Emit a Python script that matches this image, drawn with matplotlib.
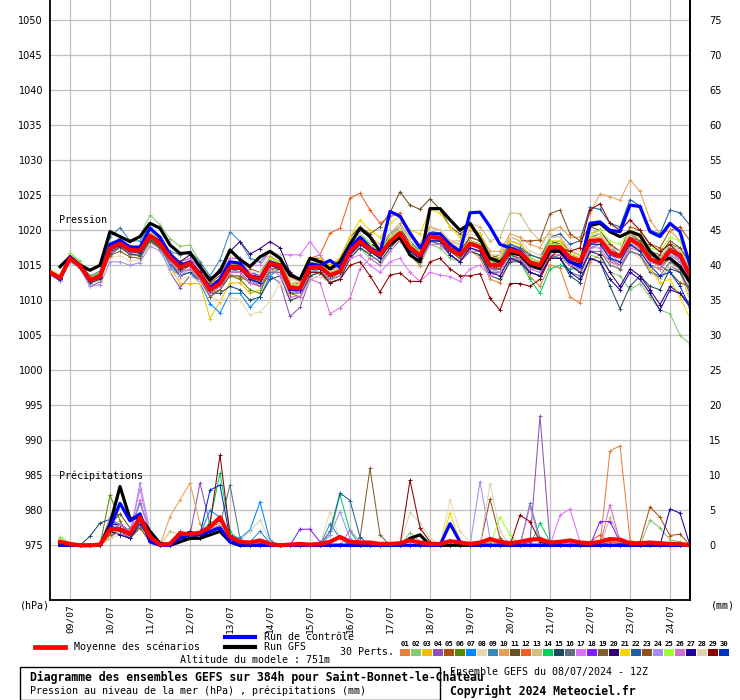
import numpy as np
import matplotlib
matplotlib.use("Agg")
import matplotlib.pyplot as plt
from matplotlib.lines import Line2D
from matplotlib.patches import Rectangle

# ---------------- data ----------------
hours = list(range(0, 385, 6))          # 65 forecast steps (08/07 12Z + 0..384h)
day_hours = [12 + 24 * k for k in range(16)]
day_labels = ["09/07", "10/07", "11/07", "12/07", "13/07", "14/07", "15/07", "16/07",
              "17/07", "18/07", "19/07", "20/07", "21/07", "22/07", "23/07", "24/07"]
left_ticks = [975, 980, 985, 990, 995, 1000, 1005, 1010, 1015, 1020, 1025, 1030, 1035, 1040, 1045, 1050]
right_ticks = [0, 5, 10, 15, 20, 25, 30, 35, 40, 45, 50, 55, 60, 65, 70, 75]

mean_p = [1014.0, 1013.2, 1016.0, 1014.9, 1012.9, 1013.4, 1017.4, 1018.1, 1017.2, 1017.1, 1019.2, 1018.1, 1016.1,
          1014.7, 1015.3, 1013.6, 1011.5, 1012.4, 1014.7, 1014.7, 1013.4, 1013.0, 1015.3, 1014.9, 1011.8, 1011.7,
          1014.7, 1014.8, 1013.6, 1014.1, 1017.0, 1018.4, 1017.3, 1016.5, 1018.4, 1019.6, 1017.5, 1016.4, 1019.1,
          1018.9, 1017.3, 1016.5, 1018.1, 1017.6, 1015.0, 1015.0, 1017.2, 1016.8, 1015.4, 1015.0, 1017.6, 1017.6,
          1016.1, 1015.6, 1018.5, 1018.6, 1016.9, 1016.3, 1018.7, 1017.9, 1015.9, 1015.3, 1017.1, 1016.5, 1013.6]
ctrl_p = [1014.0, 1013.0, 1016.2, 1015.0, 1012.8, 1013.4, 1018.0, 1018.6, 1017.6, 1017.6, 1020.3, 1019.0, 1016.5,
          1015.0, 1015.5, 1013.8, 1011.8, 1013.0, 1015.5, 1015.3, 1013.5, 1013.2, 1015.5, 1015.0, 1011.6, 1011.5,
          1015.2, 1015.0, 1015.7, 1014.7, 1017.5, 1019.0, 1017.5, 1016.7, 1022.7, 1022.0, 1019.6, 1017.5, 1019.5,
          1019.5, 1018.0, 1017.0, 1022.5, 1022.6, 1020.5, 1018.0, 1017.5, 1017.0, 1015.5, 1015.0, 1017.5, 1017.5,
          1015.5, 1014.8, 1021.0, 1021.2, 1020.0, 1019.8, 1023.6, 1023.4, 1019.8, 1019.1, 1021.0, 1019.8, 1015.0]
gfs_p = [np.nan, 1014.8, 1016.2, 1015.0, 1014.3, 1015.0, 1019.8, 1019.1, 1018.4, 1019.1, 1021.0, 1020.3, 1017.9,
         1016.7, 1016.8, 1014.8, 1012.9, 1014.1, 1017.2, 1015.8, 1014.8, 1016.2, 1017.0, 1016.0, 1013.6, 1013.0,
         1016.0, 1015.5, 1014.5, 1015.5, 1018.0, 1020.3, 1019.1, 1017.0, 1018.0, 1019.0, 1016.5, 1015.5, 1023.1,
         1023.1, 1021.5, 1020.0, 1021.0, 1018.8, 1016.0, 1015.5, 1016.8, 1016.5, 1015.0, 1014.5, 1017.0, 1017.0,
         1015.5, 1015.0, 1020.7, 1021.0, 1019.8, 1019.1, 1019.8, 1019.3, 1017.0, 1015.7, 1016.0, 1014.8, 1012.6]

p01 = [1014.0, 1012.9, 1016.2, 1014.9, 1013.2, 1013.4, 1016.9, 1018.4, 1017.2, 1016.6, 1019.7, 1018.1, 1015.1,
       1014.2, 1014.3, 1014.1, 1012.5, 1012.9, 1013.7, 1013.2, 1012.9, 1013.0, 1016.3, 1015.4, 1013.3, 1012.7,
       1014.7, 1013.8, 1014.1, 1015.1, 1017.0, 1017.4, 1016.8, 1017.0, 1019.4, 1019.6, 1016.5, 1014.9, 1018.6,
       1018.9, 1018.3, 1017.0, 1017.1, 1016.1, 1013.0, 1012.5, 1015.7, 1015.8, 1013.4, 1012.0, 1015.1, 1014.6,
       1010.5, 1009.6, 1015.5, 1016.6, 1015.9, 1014.3, 1017.7, 1017.4, 1016.4, 1016.3, 1017.1, 1015.5, 1013.6]
p02 = [1014.3, 1013.4, 1016.8, 1015.6, 1013.0, 1013.8, 1018.0, 1018.9, 1018.5, 1019.2, 1022.2, 1020.8, 1018.8,
       1017.7, 1017.9, 1015.5, 1012.5, 1013.0, 1015.5, 1015.0, 1014.0, 1013.5, 1016.0, 1015.5, 1012.0, 1011.0,
       1014.0, 1014.5, 1012.5, 1013.0, 1016.0, 1017.5, 1016.0, 1015.0, 1017.5, 1018.5, 1016.5, 1015.0, 1018.0,
       1017.5, 1016.0, 1015.5, 1017.0, 1016.5, 1014.0, 1014.5, 1016.5, 1016.0, 1014.5, 1014.0, 1016.5, 1016.0,
       1015.0, 1014.5, 1016.5, 1016.0, 1014.0, 1013.5, 1011.5, 1012.4, 1010.5, 1008.6, 1008.1, 1005.0, 1003.8]
p03 = [1013.8, 1013.0, 1015.8, 1014.8, 1012.4, 1012.8, 1016.6, 1017.6, 1016.5, 1016.3, 1018.6, 1017.9, 1015.0,
       1012.4, 1012.4, 1012.4, 1007.4, 1009.8, 1012.5, 1012.5, 1011.0, 1011.5, 1014.0, 1014.5, 1011.5, 1011.0,
       1015.5, 1016.0, 1014.5, 1015.0, 1018.0, 1019.5, 1018.0, 1017.0, 1019.0, 1020.5, 1018.0, 1016.0, 1019.5,
       1019.0, 1017.0, 1016.0, 1018.5, 1018.0, 1015.5, 1016.0, 1018.0, 1017.0, 1015.5, 1015.5, 1018.5, 1018.0,
       1016.5, 1016.0, 1019.0, 1019.5, 1017.0, 1016.5, 1019.5, 1018.5, 1016.0, 1014.5, 1016.0, 1014.0, 1010.0]
p04 = [1014.0, 1013.0, 1015.8, 1014.6, 1012.0, 1012.6, 1016.5, 1017.5, 1016.6, 1016.5, 1018.6, 1017.6, 1014.0,
       1011.8, 1013.5, 1013.0, 1010.5, 1011.5, 1014.0, 1014.5, 1013.0, 1012.0, 1013.5, 1012.5, 1007.7, 1009.0,
       1013.0, 1013.5, 1012.5, 1013.0, 1016.0, 1018.0, 1017.5, 1016.0, 1018.0, 1019.0, 1017.0, 1016.5, 1019.0,
       1019.5, 1018.0, 1017.0, 1018.0, 1017.5, 1015.0, 1014.5, 1016.5, 1016.0, 1014.0, 1013.5, 1016.0, 1016.5,
       1015.0, 1014.0, 1017.5, 1018.0, 1016.0, 1015.0, 1017.0, 1016.5, 1014.5, 1013.0, 1015.0, 1014.0, 1011.0]
p05 = [1014.2, 1013.4, 1016.2, 1015.2, 1013.5, 1014.0, 1018.0, 1018.5, 1017.8, 1017.5, 1019.5, 1018.5, 1016.5,
       1015.5, 1016.0, 1014.5, 1012.5, 1013.5, 1016.0, 1016.0, 1014.5, 1014.0, 1016.0, 1015.5, 1012.0, 1012.5,
       1015.5, 1015.0, 1013.5, 1014.0, 1017.5, 1019.0, 1017.5, 1016.5, 1018.5, 1020.0, 1018.0, 1016.5, 1019.5,
       1019.0, 1017.0, 1016.0, 1018.0, 1017.5, 1014.5, 1015.0, 1017.5, 1017.0, 1015.5, 1015.0, 1018.0, 1018.5,
       1017.0, 1016.5, 1019.5, 1020.0, 1018.0, 1017.0, 1020.5, 1020.0, 1018.0, 1017.5, 1020.0, 1020.5, 1018.5]
p06 = [1013.8, 1013.2, 1016.4, 1015.0, 1012.6, 1013.2, 1017.0, 1017.8, 1016.8, 1016.8, 1019.0, 1018.0, 1016.5,
       1015.0, 1015.5, 1013.0, 1011.0, 1011.5, 1013.5, 1013.0, 1011.5, 1011.0, 1014.5, 1014.5, 1011.0, 1010.5,
       1013.5, 1014.0, 1013.0, 1014.0, 1016.5, 1018.0, 1017.0, 1016.0, 1018.0, 1019.5, 1017.5, 1016.5, 1019.0,
       1018.5, 1017.0, 1016.5, 1018.0, 1017.5, 1015.0, 1015.5, 1017.5, 1017.0, 1015.5, 1015.0, 1017.5, 1017.0,
       1015.5, 1015.0, 1018.0, 1018.0, 1016.0, 1015.5, 1018.0, 1017.0, 1015.0, 1014.5, 1016.5, 1015.5, 1012.5]
p07 = [1014.0, 1013.2, 1016.0, 1014.8, 1012.8, 1013.0, 1017.0, 1017.6, 1016.6, 1016.4, 1018.6, 1017.8, 1015.0,
       1013.5, 1014.0, 1012.5, 1009.5, 1008.2, 1011.0, 1011.0, 1009.0, 1010.5, 1013.5, 1014.5, 1011.5, 1011.5,
       1014.5, 1015.0, 1013.5, 1014.5, 1017.0, 1018.5, 1017.5, 1016.5, 1018.5, 1020.0, 1017.5, 1016.5, 1019.5,
       1019.0, 1017.5, 1016.5, 1018.5, 1018.0, 1015.5, 1015.5, 1017.5, 1017.0, 1015.5, 1015.0, 1018.0, 1017.5,
       1016.0, 1015.5, 1018.5, 1018.5, 1017.0, 1016.0, 1019.0, 1018.0, 1016.0, 1015.0, 1017.0, 1016.0, 1013.0]
p08 = [1013.6, 1012.8, 1015.6, 1014.6, 1012.4, 1012.8, 1016.0, 1016.4, 1015.6, 1015.8, 1018.0, 1017.4, 1014.0,
       1013.0, 1013.5, 1012.5, 1010.5, 1010.0, 1010.5, 1010.0, 1007.9, 1008.4, 1009.8, 1012.5, 1010.0, 1010.0,
       1013.0, 1013.5, 1012.5, 1013.5, 1016.0, 1018.0, 1017.0, 1016.5, 1018.5, 1019.5, 1017.5, 1016.5, 1019.5,
       1019.0, 1017.5, 1016.5, 1018.5, 1018.0, 1015.5, 1015.0, 1017.5, 1017.0, 1015.5, 1015.0, 1017.5, 1017.0,
       1015.0, 1014.5, 1017.0, 1017.0, 1015.5, 1014.5, 1017.0, 1016.0, 1014.0, 1013.0, 1015.0, 1014.5, 1012.0]
p09 = [1014.2, 1013.4, 1016.4, 1015.4, 1013.4, 1014.2, 1019.0, 1020.4, 1018.5, 1018.5, 1020.5, 1019.0, 1017.0,
       1016.5, 1017.0, 1015.5, 1013.5, 1015.8, 1019.8, 1018.4, 1016.0, 1015.5, 1017.0, 1016.0, 1012.5, 1012.0,
       1015.0, 1015.5, 1014.0, 1014.5, 1017.5, 1019.0, 1018.0, 1017.0, 1019.0, 1020.5, 1018.5, 1017.0, 1020.0,
       1019.5, 1018.0, 1017.0, 1019.0, 1018.5, 1016.0, 1016.0, 1018.0, 1017.5, 1016.0, 1015.5, 1018.5, 1018.0,
       1016.5, 1016.0, 1019.0, 1019.5, 1017.5, 1016.5, 1019.5, 1018.5, 1016.5, 1015.5, 1017.5, 1016.5, 1014.0]
p10 = [1014.2, 1013.2, 1016.2, 1015.0, 1013.0, 1013.6, 1017.6, 1018.4, 1017.4, 1017.4, 1019.6, 1018.4, 1016.5,
       1015.0, 1015.5, 1014.0, 1012.0, 1013.0, 1015.0, 1015.5, 1014.0, 1013.5, 1016.0, 1015.5, 1012.5, 1012.5,
       1015.5, 1016.0, 1014.5, 1015.5, 1018.5, 1020.0, 1019.0, 1018.0, 1019.5, 1021.0, 1019.0, 1018.0, 1020.5,
       1020.0, 1018.5, 1018.0, 1020.0, 1019.5, 1017.0, 1017.0, 1019.5, 1019.0, 1018.0, 1017.5, 1020.0, 1020.5,
       1019.0, 1019.0, 1022.5, 1025.2, 1024.8, 1024.3, 1027.2, 1025.6, 1021.5, 1019.5, 1020.0, 1018.5, 1015.5]
p11 = [1014.0, 1013.0, 1016.0, 1014.8, 1012.8, 1013.2, 1017.2, 1018.0, 1017.0, 1016.8, 1019.0, 1018.0, 1016.5,
       1015.0, 1015.5, 1014.0, 1012.0, 1012.5, 1015.0, 1015.0, 1013.5, 1013.0, 1015.5, 1015.0, 1012.0, 1012.0,
       1015.5, 1016.0, 1015.0, 1016.0, 1019.0, 1020.5, 1019.5, 1020.5, 1022.5, 1025.5, 1023.6, 1023.0, 1024.5,
       1023.0, 1020.5, 1019.5, 1020.5, 1019.5, 1016.5, 1016.0, 1018.5, 1018.0, 1016.5, 1016.0, 1018.5, 1018.0,
       1016.5, 1016.0, 1018.5, 1018.5, 1016.5, 1016.0, 1018.5, 1018.0, 1016.0, 1015.0, 1014.0, 1012.5, 1012.0]
p12 = [1014.0, 1013.2, 1016.0, 1015.0, 1013.0, 1013.5, 1017.5, 1018.2, 1017.2, 1017.0, 1019.0, 1018.0, 1016.0,
       1014.5, 1015.0, 1013.5, 1011.5, 1012.5, 1015.0, 1015.0, 1013.5, 1013.0, 1015.5, 1015.0, 1012.0, 1012.5,
       1016.0, 1016.5, 1019.6, 1020.3, 1024.6, 1025.3, 1022.9, 1021.0, 1022.0, 1022.5, 1019.5, 1018.0, 1020.5,
       1020.0, 1018.0, 1017.0, 1019.0, 1018.5, 1015.5, 1015.5, 1017.5, 1017.5, 1016.0, 1015.5, 1018.0, 1018.0,
       1016.5, 1016.0, 1019.0, 1019.0, 1017.5, 1017.0, 1019.5, 1018.5, 1016.5, 1016.0, 1018.0, 1017.0, 1014.5]
p13 = [1013.8, 1013.0, 1015.8, 1014.8, 1012.6, 1013.0, 1016.8, 1017.5, 1016.5, 1016.5, 1018.5, 1017.5, 1015.5,
       1014.0, 1014.5, 1013.0, 1011.0, 1012.0, 1014.0, 1014.0, 1012.5, 1012.5, 1015.0, 1014.5, 1011.5, 1011.5,
       1014.5, 1015.0, 1013.5, 1014.5, 1017.5, 1019.0, 1018.0, 1017.0, 1019.0, 1020.5, 1019.0, 1018.0, 1020.5,
       1020.0, 1018.5, 1018.5, 1021.0, 1020.5, 1018.5, 1019.0, 1022.5, 1022.4, 1020.0, 1018.5, 1019.5, 1019.0,
       1017.0, 1016.5, 1019.0, 1019.0, 1017.0, 1016.5, 1018.5, 1018.0, 1016.0, 1015.0, 1017.0, 1016.0, 1013.5]
p14 = [1014.0, 1013.2, 1016.2, 1015.0, 1012.8, 1013.4, 1017.5, 1018.2, 1017.4, 1017.4, 1019.4, 1018.4, 1016.5,
       1015.0, 1015.5, 1014.0, 1011.5, 1012.0, 1014.5, 1014.5, 1013.0, 1012.5, 1015.0, 1015.5, 1012.0, 1011.5,
       1015.0, 1015.5, 1014.0, 1014.5, 1018.0, 1019.5, 1018.0, 1017.0, 1019.5, 1020.5, 1018.0, 1017.0, 1019.5,
       1019.0, 1017.5, 1016.5, 1018.5, 1017.5, 1014.5, 1014.5, 1016.5, 1015.5, 1013.0, 1011.0, 1014.5, 1015.0,
       1014.5, 1014.5, 1018.0, 1018.5, 1016.5, 1016.0, 1019.0, 1018.5, 1016.5, 1016.0, 1018.0, 1017.5, 1015.0]
p15 = [1014.0, 1013.0, 1015.8, 1014.6, 1012.5, 1013.0, 1016.8, 1017.6, 1016.6, 1016.4, 1018.6, 1017.6, 1015.5,
       1013.5, 1014.0, 1013.0, 1011.0, 1011.0, 1012.0, 1011.5, 1010.0, 1010.5, 1013.0, 1013.5, 1010.0, 1010.5,
       1013.5, 1014.0, 1012.5, 1013.0, 1016.0, 1017.5, 1016.5, 1015.5, 1017.5, 1019.0, 1016.5, 1015.5, 1018.5,
       1018.0, 1016.5, 1015.5, 1017.0, 1016.5, 1013.5, 1013.0, 1015.5, 1015.5, 1014.0, 1013.5, 1016.0, 1016.0,
       1013.5, 1012.5, 1016.0, 1015.5, 1012.0, 1008.8, 1012.0, 1013.5, 1012.0, 1011.5, 1014.5, 1014.0, 1011.5]
p16 = [1014.2, 1013.4, 1016.0, 1014.8, 1013.0, 1013.6, 1017.6, 1018.0, 1017.0, 1017.2, 1019.4, 1018.0, 1016.0,
       1014.5, 1015.0, 1013.5, 1011.0, 1012.0, 1014.5, 1014.0, 1012.5, 1012.0, 1014.0, 1014.0, 1011.0, 1011.5,
       1014.5, 1014.5, 1013.0, 1013.5, 1016.5, 1018.0, 1017.0, 1016.0, 1018.0, 1019.0, 1016.5, 1015.5, 1018.5,
       1018.0, 1016.5, 1015.5, 1017.5, 1017.0, 1014.0, 1014.0, 1016.0, 1015.5, 1014.0, 1013.5, 1016.5, 1016.0,
       1014.0, 1013.5, 1017.0, 1017.0, 1015.0, 1014.5, 1017.0, 1016.5, 1014.0, 1013.5, 1015.5, 1014.5, 1011.0]
p17 = [1014.2, 1013.4, 1016.2, 1015.2, 1013.2, 1013.8, 1017.6, 1018.4, 1017.6, 1017.4, 1019.6, 1018.4, 1016.5,
       1015.5, 1016.0, 1014.5, 1013.0, 1014.0, 1016.0, 1016.0, 1015.0, 1015.0, 1017.0, 1016.5, 1016.5, 1016.5,
       1018.4, 1016.5, 1014.5, 1014.5, 1016.0, 1016.5, 1015.0, 1014.0, 1015.5, 1016.0, 1014.0, 1012.7, 1014.0,
       1013.6, 1013.4, 1012.7, 1014.5, 1015.0, 1013.5, 1014.0, 1016.0, 1016.0, 1014.5, 1014.5, 1017.0, 1017.0,
       1015.5, 1015.0, 1018.0, 1018.0, 1016.5, 1015.5, 1018.0, 1017.5, 1015.5, 1015.0, 1016.5, 1015.5, 1013.0]
p18 = [1013.8, 1012.8, 1015.8, 1014.8, 1012.6, 1013.2, 1017.2, 1018.0, 1017.0, 1017.0, 1019.0, 1018.0, 1016.0,
       1014.5, 1015.5, 1014.0, 1012.0, 1013.0, 1015.5, 1015.5, 1014.0, 1013.5, 1015.5, 1015.0, 1011.5, 1011.0,
       1014.0, 1014.5, 1013.5, 1014.0, 1016.5, 1018.0, 1017.0, 1016.5, 1018.5, 1019.5, 1017.0, 1016.0, 1018.5,
       1018.5, 1017.0, 1016.5, 1018.0, 1017.5, 1014.5, 1014.5, 1017.0, 1016.5, 1015.0, 1014.5, 1017.0, 1017.0,
       1015.5, 1015.0, 1018.0, 1018.5, 1016.5, 1016.0, 1018.5, 1018.0, 1015.5, 1015.0, 1017.0, 1016.0, 1013.0]
p19 = [1014.0, 1013.2, 1015.8, 1014.6, 1012.6, 1013.2, 1016.4, 1017.0, 1016.2, 1016.0, 1018.4, 1017.4, 1015.5,
       1014.0, 1015.0, 1013.0, 1010.5, 1011.5, 1013.5, 1013.5, 1012.5, 1012.0, 1014.5, 1014.5, 1011.0, 1011.0,
       1014.0, 1014.0, 1013.0, 1013.5, 1016.5, 1018.0, 1017.0, 1016.0, 1018.0, 1019.0, 1017.0, 1016.0, 1018.5,
       1018.5, 1017.0, 1016.0, 1017.5, 1017.0, 1014.5, 1014.5, 1016.5, 1016.0, 1015.0, 1014.5, 1017.0, 1017.5,
       1016.0, 1015.5, 1018.5, 1018.5, 1017.0, 1016.5, 1019.0, 1018.5, 1016.5, 1016.0, 1017.5, 1016.5, 1014.0]
p20 = [1014.2, 1013.4, 1016.2, 1015.2, 1013.2, 1013.8, 1017.8, 1018.6, 1017.6, 1017.6, 1019.6, 1018.6, 1016.8,
       1015.5, 1016.5, 1015.0, 1013.0, 1014.5, 1017.0, 1018.4, 1016.6, 1017.4, 1018.4, 1017.5, 1014.0, 1013.0,
       1016.0, 1016.0, 1014.5, 1015.0, 1017.5, 1019.0, 1018.0, 1017.5, 1019.5, 1020.5, 1018.0, 1017.0, 1019.5,
       1019.5, 1018.0, 1017.0, 1018.5, 1018.0, 1015.5, 1015.0, 1017.5, 1017.0, 1015.5, 1015.0, 1017.5, 1017.0,
       1015.0, 1014.0, 1017.0, 1016.5, 1014.0, 1012.0, 1014.5, 1013.5, 1011.5, 1009.4, 1012.0, 1011.0, 1009.5]
p21 = [1014.0, 1013.2, 1016.0, 1015.0, 1013.0, 1013.6, 1017.6, 1018.2, 1017.4, 1017.2, 1019.4, 1018.2, 1016.5,
       1015.0, 1015.5, 1013.5, 1011.5, 1012.5, 1015.0, 1015.0, 1013.5, 1013.0, 1015.5, 1015.5, 1012.0, 1012.0,
       1015.5, 1016.0, 1015.0, 1016.0, 1019.0, 1021.5, 1020.0, 1019.0, 1021.0, 1022.0, 1020.0, 1019.5, 1023.0,
       1022.5, 1020.5, 1019.0, 1020.5, 1019.5, 1016.5, 1016.0, 1018.5, 1018.0, 1016.5, 1016.0, 1018.5, 1018.5,
       1016.5, 1016.0, 1019.0, 1019.0, 1017.0, 1016.0, 1018.5, 1017.5, 1014.5, 1012.5, 1013.0, 1010.5, 1007.4]
p22 = [1014.0, 1013.2, 1016.0, 1015.0, 1013.0, 1013.4, 1017.4, 1018.0, 1017.2, 1017.0, 1019.0, 1018.0, 1016.0,
       1014.5, 1015.0, 1013.5, 1011.5, 1012.5, 1014.5, 1014.5, 1013.0, 1012.5, 1015.0, 1014.5, 1011.5, 1011.5,
       1014.5, 1014.5, 1013.5, 1014.0, 1017.0, 1018.5, 1017.5, 1016.5, 1018.5, 1019.5, 1017.5, 1016.5, 1019.0,
       1019.0, 1017.5, 1016.5, 1018.5, 1018.0, 1015.5, 1015.5, 1018.0, 1017.5, 1016.5, 1016.0, 1019.0, 1019.5,
       1018.0, 1018.5, 1023.3, 1023.0, 1021.0, 1020.5, 1024.4, 1023.5, 1020.0, 1019.5, 1022.9, 1022.5, 1020.7]
p23 = [1014.0, 1013.0, 1016.0, 1014.8, 1012.8, 1013.2, 1017.2, 1017.8, 1017.0, 1016.8, 1019.0, 1017.8, 1016.0,
       1014.5, 1015.0, 1013.5, 1011.5, 1012.0, 1014.5, 1014.5, 1013.0, 1012.5, 1015.0, 1014.5, 1011.5, 1011.5,
       1014.5, 1015.0, 1013.5, 1014.0, 1017.0, 1018.5, 1017.5, 1016.5, 1018.5, 1020.0, 1018.0, 1017.0, 1019.5,
       1019.0, 1017.5, 1017.0, 1019.0, 1018.5, 1016.0, 1016.5, 1019.0, 1018.5, 1018.5, 1018.6, 1022.4, 1022.9,
       1019.5, 1018.5, 1020.5, 1020.0, 1018.0, 1017.0, 1019.5, 1019.0, 1017.0, 1016.5, 1018.5, 1017.5, 1015.5]
p24 = [1013.6, 1012.8, 1015.5, 1014.6, 1012.0, 1012.2, 1015.5, 1015.5, 1015.0, 1015.4, 1017.7, 1017.1, 1014.5,
       1013.5, 1014.5, 1013.0, 1011.0, 1012.0, 1014.0, 1014.0, 1012.5, 1012.5, 1015.0, 1014.5, 1011.5, 1011.0,
       1014.0, 1014.5, 1013.0, 1013.5, 1016.5, 1018.0, 1017.0, 1016.0, 1018.0, 1019.0, 1017.0, 1016.0, 1018.5,
       1018.5, 1017.0, 1016.5, 1018.0, 1017.5, 1015.0, 1015.0, 1017.0, 1016.5, 1015.0, 1015.0, 1017.5, 1017.5,
       1016.0, 1015.5, 1018.0, 1018.0, 1016.0, 1015.5, 1018.0, 1017.5, 1015.5, 1015.0, 1016.5, 1015.5, 1012.5]
p25 = [1014.4, 1013.6, 1016.6, 1015.4, 1013.2, 1014.0, 1018.0, 1018.6, 1017.6, 1017.6, 1019.8, 1018.6, 1016.5,
       1015.0, 1015.5, 1014.0, 1012.0, 1013.0, 1015.0, 1015.0, 1013.5, 1013.5, 1016.0, 1015.5, 1012.5, 1012.0,
       1015.0, 1015.5, 1014.0, 1014.5, 1017.5, 1019.0, 1018.0, 1017.0, 1019.0, 1020.0, 1018.0, 1017.0, 1019.5,
       1019.5, 1018.0, 1017.0, 1018.5, 1018.0, 1015.5, 1015.5, 1017.5, 1017.0, 1016.0, 1015.5, 1018.0, 1018.0,
       1016.5, 1016.5, 1019.5, 1020.0, 1018.5, 1018.0, 1020.0, 1019.5, 1017.5, 1017.0, 1019.0, 1018.5, 1016.0]
p26 = [1014.0, 1013.2, 1015.8, 1014.8, 1012.8, 1013.2, 1017.0, 1017.8, 1016.8, 1016.8, 1019.0, 1018.0, 1015.5,
       1014.0, 1014.5, 1013.0, 1011.0, 1012.0, 1014.0, 1014.0, 1012.5, 1012.0, 1014.5, 1013.5, 1010.5, 1010.5,
       1013.0, 1012.5, 1008.1, 1008.9, 1010.3, 1014.5, 1016.0, 1015.0, 1017.0, 1018.5, 1016.5, 1015.5, 1018.0,
       1018.0, 1016.5, 1015.5, 1017.0, 1017.0, 1014.5, 1014.0, 1016.0, 1016.0, 1014.5, 1014.0, 1016.5, 1016.5,
       1015.0, 1014.5, 1017.5, 1017.5, 1015.5, 1015.0, 1017.5, 1017.0, 1015.0, 1014.5, 1016.0, 1015.0, 1012.0]
p27 = [1014.0, 1013.2, 1016.0, 1014.8, 1012.8, 1013.4, 1017.4, 1018.0, 1017.0, 1017.0, 1019.2, 1018.0, 1016.0,
       1014.5, 1015.0, 1013.5, 1011.5, 1012.5, 1014.5, 1014.5, 1013.0, 1012.5, 1015.0, 1014.5, 1011.5, 1011.5,
       1014.5, 1014.5, 1013.5, 1014.0, 1016.5, 1018.0, 1017.0, 1016.0, 1018.0, 1019.0, 1017.0, 1016.0, 1018.5,
       1018.5, 1016.5, 1015.5, 1017.5, 1017.0, 1014.0, 1013.5, 1016.0, 1015.5, 1014.0, 1013.5, 1016.0, 1016.0,
       1014.0, 1013.0, 1016.0, 1015.5, 1013.0, 1011.5, 1014.0, 1013.0, 1011.0, 1008.6, 1011.5, 1011.0, 1009.0]
p28 = [1014.2, 1013.4, 1016.2, 1015.0, 1013.0, 1013.6, 1017.8, 1018.4, 1017.4, 1017.4, 1019.6, 1018.4, 1016.5,
       1015.0, 1015.5, 1014.0, 1012.0, 1013.0, 1015.5, 1015.5, 1014.0, 1014.0, 1017.0, 1016.5, 1013.0, 1012.5,
       1015.5, 1015.5, 1014.0, 1015.0, 1018.0, 1019.5, 1018.5, 1017.5, 1019.5, 1020.5, 1018.5, 1017.5, 1020.0,
       1020.0, 1018.5, 1017.5, 1019.5, 1019.0, 1016.5, 1016.5, 1019.0, 1018.5, 1017.0, 1016.5, 1019.0, 1019.0,
       1017.5, 1017.0, 1019.5, 1019.5, 1017.5, 1017.0, 1019.5, 1019.0, 1017.0, 1016.0, 1018.0, 1017.0, 1014.5]
p29 = [1014.0, 1013.2, 1016.2, 1015.0, 1013.0, 1013.4, 1017.6, 1018.4, 1017.4, 1017.4, 1019.4, 1018.6, 1016.5,
       1015.0, 1015.5, 1014.0, 1011.5, 1012.5, 1015.0, 1015.0, 1013.5, 1013.0, 1015.5, 1015.0, 1011.5, 1011.5,
       1014.0, 1014.0, 1012.5, 1013.0, 1015.0, 1015.5, 1013.5, 1011.2, 1013.6, 1013.9, 1012.7, 1012.7, 1015.5,
       1016.0, 1014.5, 1013.5, 1013.5, 1013.8, 1010.3, 1008.6, 1012.4, 1012.4, 1012.0, 1013.0, 1016.0, 1017.5,
       1017.0, 1017.5, 1022.9, 1023.8, 1021.0, 1020.0, 1021.5, 1020.0, 1018.0, 1017.0, 1018.0, 1016.5, 1014.0]
p30 = [1014.0, 1013.2, 1016.0, 1014.8, 1012.8, 1013.2, 1017.2, 1017.8, 1017.0, 1016.8, 1019.0, 1018.0, 1016.0,
       1014.5, 1015.0, 1013.5, 1011.5, 1012.5, 1014.5, 1014.5, 1013.0, 1012.5, 1015.0, 1015.0, 1012.0, 1011.5,
       1014.5, 1015.0, 1013.5, 1014.0, 1017.0, 1018.5, 1017.5, 1016.5, 1018.0, 1019.5, 1017.0, 1016.0, 1018.5,
       1018.5, 1017.0, 1016.5, 1018.0, 1017.5, 1015.0, 1015.0, 1017.0, 1016.5, 1015.0, 1015.0, 1017.5, 1017.5,
       1016.0, 1015.5, 1018.0, 1018.0, 1016.0, 1015.5, 1018.0, 1017.0, 1015.0, 1013.5, 1014.0, 1012.0, 1009.0]

# precipitation (mm per 6 h), steps +6h .. +384h (64 values)
mean_r = [0.5, 0.2, 0, 0, 0.1, 2.3, 2.3, 1.6, 4.0, 1.2, 0.1, 0.2, 1.7, 1.6, 1.8, 2.6,
          4.0, 1.2, 0.5, 0.4, 0.7, 0.2, 0, 0.1, 0.2, 0.1, 0.2, 0.5, 1.2, 0.5, 0.4, 0.4,
          0.2, 0.2, 0.3, 0.7, 0.4, 0.2, 0.2, 0.6, 0.4, 0.2, 0.4, 0.9, 0.5, 0.3, 0.5, 0.8,
          0.9, 0.4, 0.5, 0.7, 0.4, 0.3, 0.5, 0.9, 0.8, 0.3, 0.3, 0.4, 0.3, 0.2, 0.2, 0]
ctrl_r = [0, 0, 0, 0, 0, 2.5, 6.0, 3.5, 4.5, 0.5, 0, 0, 1.0, 1.5, 1.5, 2.0,
          2.5, 0.5, 0, 0, 0, 0, 0, 0, 0, 0, 0, 0, 0, 0, 0, 0,
          0, 0, 0, 0, 0, 0, 0, 3.1, 0.5, 0, 0, 0, 0, 0, 0, 0,
          0, 0, 0, 0, 0, 0, 0, 0, 0, 0, 0, 0, 0, 0, 0, 0]
gfs_r = [0, 0, 0, 0, 0, 3.0, 8.4, 3.8, 4.0, 2.0, 0.3, 0, 0.5, 1, 1, 1.5,
         2, 0.5, 0, 0, 0, 0, 0, 0, 0, 0, 0, 0, 0, 0, 0, 0,
         0, 0, 0, 1.0, 1.5, 0, 0, 0, 0, 0, 0, 0, 0, 0, 0, 0,
         0, 0, 0, 0, 0, 0, 0, 0, 0, 0, 0, 0, 0, 0, 0, 0]

r01 = [0.5, 0, 0, 0, 0, 2, 2.5, 1.5, 3, 1, 0, 0, 1.5, 1, 1, 3, 3, 1, 0.5, 0, 0.3, 0, 0, 0, 0, 0, 0, 0, 0, 0, 0, 0,
       0, 0, 0, 0, 0, 0, 0, 0, 0, 0, 0, 0.5, 0.5, 0, 0, 0, 0, 0, 0, 0, 0, 0, 0, 13.5, 14.2, 0.8, 0, 0, 0, 0, 0, 0]
r02 = [1.2, 0.3, 0, 0, 0, 3, 2, 1.5, 4, 1.5, 0, 0, 1, 1.5, 2, 2.5, 4, 1, 0.5, 0.3, 0, 0, 0, 0, 0, 0, 0, 0, 0, 0, 0, 0,
       0, 0, 0, 1.8, 0.5, 0, 0, 0, 0, 0, 0, 0, 0, 0, 0, 0, 0, 0, 0, 0, 0, 0, 0, 0, 0, 0, 0, 3.6, 2.5, 0.8, 0.5, 0]
r03 = [0.8, 0, 0, 0, 0, 1.5, 3, 2, 3, 1, 0, 0, 1.5, 2, 1.5, 3, 3.5, 0.5, 0, 0, 0, 0, 0, 0, 0, 0, 0, 0, 0, 0, 0, 0,
       0, 0, 0, 0, 0, 0, 0, 0, 0, 0, 0, 0, 0, 0, 0, 0, 0, 0, 0, 0, 0, 0, 0, 0, 0, 0, 0, 0, 0, 0, 0, 0]
r04 = [0.5, 0, 0, 0, 0, 2.5, 1.5, 1, 3, 1, 0, 0, 1, 1.5, 8.9, 3, 2.5, 0.5, 0, 0, 0, 0, 0, 0, 0, 0, 0, 0, 0, 0, 0, 0,
       0, 0, 0, 0, 0, 0, 0, 0, 0, 0, 0, 0, 0, 0, 0, 0.5, 18.5, 0.5, 0, 0, 0, 0, 0, 0, 0, 0, 0, 0, 0, 0, 0, 0]
r05 = [0.3, 0, 0, 0, 0, 3, 2, 1.5, 3.5, 1.5, 0, 0, 1.5, 1, 1.5, 2, 3, 1, 0.5, 0, 0, 0, 0, 0, 0, 0, 0, 0, 0, 0, 0, 0,
       0, 0, 0, 0, 0, 0, 0, 0, 0, 0, 0, 0, 0, 0, 0, 0, 0, 0, 0, 0, 0, 0, 0, 0.5, 0.3, 0.2, 0.5, 5.5, 4, 1.4, 1.6, 0]
r06 = [0.6, 0, 0, 0, 0, 7.2, 3.5, 1, 2.5, 0.5, 0, 0, 1, 1.5, 1, 2.5, 2.5, 0.5, 0, 0, 0, 0, 0, 0, 0, 0, 0, 0, 0, 0, 0, 0,
       0, 0, 0, 0, 0, 0, 0, 0, 0, 0, 0, 0, 0, 0, 0, 0, 0, 0, 0, 0, 0, 0, 0, 0, 0, 0, 0, 0, 0, 0, 0, 0]
r07 = [0.4, 0, 0, 0, 0, 2, 3, 2, 3.5, 1, 0, 0, 2, 1, 1.5, 5, 4, 1.5, 1, 2.2, 6.2, 0.7, 0, 0, 0, 0, 0, 0, 0, 0, 0, 0,
       0, 0, 0, 0, 0, 0, 0, 0, 0, 0, 0, 0, 0, 0, 0, 0, 0, 0, 0, 0, 0, 0, 0, 0, 0, 0, 0, 0, 0, 0, 0, 0]
r08 = [0.3, 0, 0, 0, 0, 1, 1.5, 1, 2.5, 0.5, 0, 0, 1, 1.5, 1, 2.5, 3, 0.5, 0, 0, 0, 0, 0, 0, 0, 0, 0, 4.8, 1, 0, 0, 0,
       0, 0, 0, 0, 0, 0, 0, 6.5, 2, 0.5, 0, 0, 0, 0, 0, 0, 0, 0, 0, 0, 0, 0, 0, 0, 0, 0, 0, 0, 0, 0, 0, 0]
r09 = [0.5, 0, 0, 0, 0, 4, 2, 2, 6, 2, 0, 0, 1.5, 2, 1.5, 3, 3.5, 1, 0.5, 0.5, 2, 0.3, 0, 0, 0, 0, 0, 3.1, 1, 0, 0, 0,
       0, 0, 0, 0, 0, 0, 0, 0, 0, 0, 0, 0, 0, 0, 0, 6.0, 1, 0, 0, 0, 0, 0, 0, 0, 0, 0, 0, 0, 0, 0, 0, 0]
r10 = [0.4, 0, 0, 0, 0, 2, 1.5, 1.5, 3, 1, 0, 4.1, 6.5, 8.9, 3, 2, 2.5, 1, 0.5, 0, 0, 0, 0, 0, 0, 0, 0, 0, 0, 0, 0, 0,
       0, 0, 0, 0, 0, 0, 0, 0, 0, 0, 0, 0, 0, 0, 0, 0, 0, 0, 0, 0, 0, 0, 0, 0, 0, 0, 0, 0, 0, 0, 0, 0]
r11 = [0.3, 0, 0, 0, 0, 3, 4.5, 2.5, 3, 1, 0, 0, 1.5, 1, 1.5, 3, 3, 1, 0.5, 0, 0, 0, 0, 0, 0, 0, 0, 0, 0, 0, 0, 0.5,
       0, 0, 0, 0, 0, 0, 0, 0, 0, 0, 0, 0, 0, 0, 0, 0, 0, 0, 0, 0, 0, 0, 0, 0, 0, 0, 0, 0, 0, 0, 0, 0]
r12 = [0.5, 0, 0, 0, 0, 2.5, 2, 1.5, 3.5, 1, 0, 0, 2, 1.5, 2, 3, 3, 1, 0.5, 0, 0, 0, 0, 0, 0, 0, 0, 0, 0, 0, 0, 0,
       0, 0, 0, 0, 0, 0, 0, 0, 0, 0, 0, 0, 0, 0, 0, 0, 0, 0, 0, 0, 0, 0.5, 1.5, 0.5, 0.3, 0, 0, 0, 0, 0, 0, 0]
r13 = [0.6, 0, 0, 0, 0, 1, 2.5, 1.5, 3, 1, 0, 2, 1.5, 1, 2, 3, 3.5, 1, 0.5, 0, 0, 0, 0, 0, 0, 0, 0, 0, 0, 0, 0, 0,
       0, 0, 0, 0, 0, 0, 0, 0, 0, 0, 0, 0, 0, 0, 0, 0, 0, 0, 0, 0, 0, 0, 0, 4.0, 1, 0, 0, 0, 0, 0, 0, 0]
r14 = [0.4, 0, 0, 0, 0, 3, 2, 1.5, 3, 1.5, 0, 0, 1.5, 1.5, 1, 3.5, 10.3, 2, 0.5, 0, 0, 0, 0, 0, 0, 0, 0, 1.5, 7.2, 2, 0, 0,
       0, 0, 0, 0, 0, 0, 0, 0, 0, 0, 0, 0, 0, 0, 0, 0, 3.2, 0.5, 0, 0, 0, 0, 0, 0, 0, 0, 0, 0, 0, 0, 0, 0]
r15 = [0.3, 0, 0, 1.3, 3.2, 3.7, 3, 2, 3, 1, 0, 0, 1, 1.5, 1, 2, 3, 1, 0.5, 0, 0, 0, 0, 0, 0, 0, 0, 0, 0, 0, 0, 0,
       0, 0, 0, 0, 0, 0, 0, 0, 0, 0, 0, 0, 0, 0, 0, 0, 0, 0, 0, 0, 0, 0, 0, 0, 0, 0, 0, 0, 0, 0, 0, 0]
r16 = [0.5, 0, 0, 0, 0, 2.5, 1.5, 1.5, 3, 1, 0, 0, 1.5, 1.5, 1, 2.5, 3, 8.6, 1, 0, 0, 0, 0, 0, 0, 0, 0, 0, 0, 0, 0, 0,
       0, 0, 0, 0, 0, 0, 0, 0, 0, 0, 0, 0, 0, 0, 0, 0, 0, 0, 0, 0, 0, 0, 0, 0, 0, 0, 0, 0, 0, 0, 0, 0]
r17 = [0.4, 0, 0, 0, 0, 4, 2.5, 2, 8, 1.5, 0, 0, 1.5, 1, 1.5, 2.5, 3, 1, 0, 0, 0, 0, 0, 0, 0, 0, 0, 0, 0, 0, 0, 0,
       0, 0, 0, 0, 0, 0, 0, 0, 0, 0, 0, 0, 0, 0, 0, 0, 0, 0, 4.3, 5.2, 0.5, 0, 0, 0, 0, 0, 0, 0, 0, 0, 0, 0]
r18 = [0.3, 0, 0, 0, 0, 2, 2, 1.5, 3, 1, 0, 0, 1.5, 1.5, 1, 2, 3, 1, 0.5, 0, 0, 0, 0, 0, 2.3, 2.3, 0.5, 0, 0, 0, 0, 0,
       0, 0, 0, 0, 0, 0, 0, 0, 0, 0, 0, 0, 0, 0, 0, 0, 0, 0, 0, 0, 0, 0, 3.4, 3.4, 0.5, 0, 0, 0, 0, 0, 0, 0]
r19 = [0.5, 0, 0, 0, 0, 1.5, 2, 1, 2.5, 0.5, 0, 0, 1, 1, 1.5, 2, 2.5, 0.5, 0, 0, 0, 0, 0, 0, 0, 0, 0, 0, 0, 0, 1, 11.0,
       1.5, 0, 0, 0, 0, 0, 0, 0, 0, 0, 0, 0, 0, 0, 0, 0, 0, 0, 0, 0, 0, 0, 0, 0, 0, 0, 0, 0, 0, 0, 0, 0]
r20 = [0.5, 0, 0, 0, 0, 3, 3, 2, 3.5, 1, 0, 0, 1.5, 2, 1.5, 3, 3.5, 1, 0.5, 0, 0, 0, 0, 0, 0, 0, 0, 0, 0, 0, 0, 0,
       0, 0, 0, 0, 0, 0, 0, 0, 0, 0, 0, 0, 0, 0, 0, 0, 0, 0, 0, 0, 0, 0, 0, 0, 0, 0, 0, 0, 0, 0, 0, 0]
r21 = [0.6, 0, 0, 0, 0, 2, 2, 1.5, 3, 1, 0, 0, 1.5, 1.5, 2, 2.5, 3, 0.5, 0, 0, 0, 0, 0, 0, 0, 0, 0, 0, 0, 0, 0, 0,
       0, 0, 0, 0, 0, 0, 0, 4.6, 0.5, 0, 0, 0, 0, 0, 0, 0, 0, 0, 0, 0, 0, 0, 0, 0, 0, 0, 0, 0, 0, 0, 0, 0]
r22 = [0.4, 0, 0, 0, 0, 2.5, 1.5, 1, 3, 1, 0, 0, 1, 1.5, 1, 2.5, 3, 1, 0.5, 0, 0, 0, 0, 0, 0, 0, 0, 2, 7.5, 6.4, 1.2, 0,
       0, 0, 0, 0, 0, 0, 0, 0, 0, 0, 0, 0, 0, 0, 0, 0, 0, 0, 0, 0, 0, 0, 0, 0, 0, 0, 0, 0, 0, 0, 0, 0]
r23 = [0.3, 0, 0, 0, 0, 1, 2.5, 1.5, 3, 1, 0, 0, 1.5, 1, 1.5, 2.5, 3, 0.5, 0, 0, 0, 0, 0, 0, 0, 0, 0, 0, 0, 0, 0, 0,
       0, 0, 0, 0, 0, 0, 0, 0, 0, 0, 0, 6.6, 1, 0, 0, 0, 0, 0, 0, 0, 0, 0, 0, 0, 0, 0, 0, 0, 0, 0, 0, 0]
r24 = [0.5, 0, 0, 0, 0, 3, 1.5, 1.5, 8.9, 2, 0, 0, 1, 1.5, 1, 2.5, 3, 1, 0, 0, 0, 0, 0, 0, 0, 0, 0, 1.5, 4.8, 1, 0, 0,
       0, 0, 0, 0, 0, 0, 0, 0, 0, 0, 9.1, 1, 0, 0, 0, 0, 0, 0, 0, 0, 0, 0, 0, 0, 0, 0, 0, 0, 0, 0, 0, 0]
r25 = [1.0, 0.3, 0, 0, 0, 2, 2, 1.5, 3.5, 1, 0, 0, 1.5, 1, 1.5, 2.5, 3, 1, 0.5, 0, 0, 0, 0, 0, 0, 0, 0, 0, 0, 0, 0, 0,
       0, 0, 0, 0, 0, 0, 0, 0, 0, 0, 0, 0, 4.0, 1.5, 0, 0, 0, 0, 0, 0, 0, 0, 0, 0, 0, 0, 0, 0, 0, 0, 0, 0]
r26 = [0.5, 0, 0, 0, 0, 3.5, 3, 2, 6.5, 1.5, 0, 0, 1.5, 1.5, 1, 2, 3, 1, 0, 0, 0, 0, 0, 0, 0, 0, 0, 0, 0, 2.2, 0.5, 0,
       0, 0, 0, 0, 0, 0, 0, 0, 0, 0, 0, 0, 0, 0, 0, 5.6, 0.5, 0, 0, 0, 0, 0, 0, 5.8, 0.5, 0, 0, 0, 0, 0, 0, 0]
r27 = [0.3, 0, 0, 0, 0, 2, 1.5, 1, 3, 1, 0, 0, 1, 1.5, 1, 2, 2.5, 1, 0, 0, 0, 0, 0, 0, 0, 0, 0, 0, 0, 0, 0, 0,
       0, 0, 0, 0, 0, 0, 0, 0, 0, 0, 0, 0, 0, 0, 0, 0, 0, 0, 0, 0, 0, 0, 0, 0, 0, 0, 0, 0, 0, 5.2, 4.6, 0]
r28 = [0.4, 0, 0, 0, 0, 1, 2, 1.5, 3, 1, 0, 0, 1.5, 1, 1.5, 2.5, 3, 1, 0.5, 2, 3.6, 0.5, 0, 0, 0, 0, 0, 0, 0, 0, 0, 0,
       0, 0, 0, 4.7, 3.2, 1, 0, 0, 0, 0, 0, 8.8, 2, 0, 0, 0, 0, 0, 0, 0, 0, 0, 0, 0, 0, 0, 0, 0, 0, 0, 0, 0]
r29 = [0.5, 0, 0, 0, 0, 2, 2.5, 1.5, 3.5, 1, 0, 0, 1, 1, 1.5, 3, 12.9, 1.5, 0.5, 0, 0, 0, 0, 0, 0, 0, 0, 0, 0, 0, 0, 0,
       0, 0, 0, 9.3, 2.5, 0.5, 0, 0, 0, 0, 0, 0, 0, 0, 4.3, 3.4, 0.5, 0, 0, 0, 0, 0, 0, 0, 0, 0, 0, 0.3, 0.3, 0, 0, 0]
r30 = [0.4, 0, 0, 0, 0, 3, 2, 1.5, 3, 1, 0, 0, 1.5, 1.5, 1.5, 7.9, 8.6, 1, 0.5, 0, 0, 0, 0, 0, 0, 0, 0, 0, 0, 0, 0, 0,
       0, 0, 0, 0, 0, 0, 0, 0, 0, 0, 0, 0, 0, 0, 0, 0, 0, 0, 0, 0, 0, 0, 0, 0, 0, 0, 0, 0, 0, 0, 0, 0]

pert_colors = ["#e8803a", "#88c870", "#f0c000", "#9050b8", "#b05010", "#5a8a00", "#0088ff", "#e8d8b0",
               "#3a8ab8", "#e8a050", "#6a5020", "#f06020", "#d0c080", "#00d060", "#204a60", "#607080",
               "#e070ff", "#8020ff", "#806030", "#300070", "#f0d800", "#2060a0", "#905020", "#a090f0",
               "#a0ff30", "#d070d0", "#2000a0", "#e0d0b0", "#880000", "#0030c0"]
pert_names = ["01", "02", "03", "04", "05", "06", "07", "08", "09", "10", "11", "12", "13", "14", "15",
              "16", "17", "18", "19", "20", "21", "22", "23", "24", "25", "26", "27", "28", "29", "30"]

pert_p = [p01, p02, p03, p04, p05, p06, p07, p08, p09, p10, p11, p12, p13, p14, p15,
          p16, p17, p18, p19, p20, p21, p22, p23, p24, p25, p26, p27, p28, p29, p30]
pert_r = [r01, r02, r03, r04, r05, r06, r07, r08, r09, r10, r11, r12, r13, r14, r15,
          r16, r17, r18, r19, r20, r21, r22, r23, r24, r25, r26, r27, r28, r29, r30]
for s in pert_p + [mean_p, ctrl_p, gfs_p]:
    assert len(s) == 65, len(s)
for s in pert_r + [mean_r, ctrl_r, gfs_r]:
    assert len(s) == 64, len(s)

# ---------------- drawing ----------------
W, H = 740, 700
MONO = "DejaVu Sans Mono"
fig = plt.figure(figsize=(W / 100, H / 100), dpi=100)
fig.patch.set_facecolor("white")


def fx(x):
    return x / W


def fy(y):
    return 1 - y / H


ax = fig.add_axes([50 / W, 100 / H, 640 / W, 600 / H])
YMIN, YMAX = 967.19, 1052.9
ax.set_xlim(0, 384)
ax.set_ylim(YMIN, YMAX)
PBASE = 975.0  # precipitation zero line on the pressure scale

h = np.array(hours, dtype=float)
hr = h[1:]

for c, s in zip(pert_colors, pert_p):
    ax.plot(h, s, color=c, lw=0.75, marker="+", ms=2.5, mew=0.7, zorder=2)
for c, s in zip(pert_colors, pert_r):
    ax.plot(hr, PBASE + np.array(s), color=c, lw=0.75, marker="+", ms=2.5, mew=0.7, zorder=2)

ax.plot(h, gfs_p, color="black", lw=2.3, zorder=3)
ax.plot(hr, PBASE + np.array(gfs_r), color="black", lw=2.3, zorder=3)
ax.plot(h, ctrl_p, color="#0000ff", lw=2.3, zorder=4)
ax.plot(hr, PBASE + np.array(ctrl_r), color="#0000ff", lw=2.3, zorder=4)
ax.plot(h, mean_p, color="#ff0000", lw=3.0, zorder=5)
ax.plot(hr, PBASE + np.array(mean_r), color="#ff0000", lw=3.0, zorder=5)

ax.set_yticks(left_ticks)
ax.set_yticklabels([str(t) for t in left_ticks], fontsize=7)
ax.set_xticks(day_hours)
ax.set_xticklabels(day_labels, rotation=90, family=MONO, fontsize=6.8)
ax.tick_params(axis="y", length=0, pad=5)
ax.tick_params(axis="x", length=0, pad=3)
ax.grid(True, color="#c0c0c0", lw=0.9, zorder=0)
ax.set_axisbelow(True)
for side in ["left", "right", "bottom"]:
    ax.spines[side].set_color("black")
    ax.spines[side].set_linewidth(1.3)
ax.spines["top"].set_visible(False)

ax2 = ax.twinx()
ax2.set_ylim(YMIN - PBASE, YMAX - PBASE)
ax2.set_yticks(right_ticks)
ax2.set_yticklabels([str(t) for t in right_ticks], fontsize=7)
ax2.tick_params(axis="y", length=0, pad=14)
for side in ["left", "top", "bottom"]:
    ax2.spines[side].set_visible(False)
ax2.spines["right"].set_color("black")
ax2.spines["right"].set_linewidth(1.3)

# in-plot labels (x in hours: 0.6 h per pixel from the left edge)
ax.text((59 - 50) * 0.6, 1050 - (220 - 20.3) / 7, "Pression", family=MONO, fontsize=7.2,
        va="center", ha="left", zorder=6)
ax.text((59 - 50) * 0.6, 1050 - (476 - 20.3) / 7, "Précipitations", family=MONO, fontsize=7.2,
        va="center", ha="left", zorder=6)

# ---------------- bottom annotations ----------------
fs = 7.2
fig.text(fx(20), fy(606), "(hPa)", family=MONO, fontsize=fs, va="center", ha="left")
fig.text(fx(711), fy(606), "(mm)", family=MONO, fontsize=fs, va="center", ha="left")

fig.add_artist(Line2D([fx(35), fx(65)], [fy(647), fy(647)], color="#ff0000", lw=3.4))
fig.text(fx(74), fy(647), "Moyenne des scénarios", family=MONO, fontsize=fs, va="center", ha="left")
fig.add_artist(Line2D([fx(225), fx(255)], [fy(637), fy(637)], color="#0000ff", lw=3.0))
fig.text(fx(264), fy(637), "Run de contrôle", family=MONO, fontsize=fs, va="center", ha="left")
fig.add_artist(Line2D([fx(225), fx(255)], [fy(647), fy(647)], color="black", lw=3.0))
fig.text(fx(264), fy(647), "Run GFS", family=MONO, fontsize=fs, va="center", ha="left")
fig.text(fx(180), fy(660), "Altitude du modele : 751m", family=MONO, fontsize=fs, va="center", ha="left")
fig.text(fx(340), fy(652), "30 Perts.", family=MONO, fontsize=fs, va="center", ha="left")

for k, (name, col) in enumerate(zip(pert_names, pert_colors)):
    x0 = 400 + 11 * k
    fig.add_artist(Rectangle((fx(x0), fy(656)), 10 / W, 7 / H, transform=fig.transFigure,
                             facecolor=col, edgecolor="none"))
    fig.text(fx(x0 + 5), fy(644), name, family=MONO, fontsize=5.2, fontweight="bold",
             va="center", ha="center")

fig.add_artist(Rectangle((fx(20), fy(700)), 420 / W, 33 / H, transform=fig.transFigure,
                         facecolor="none", edgecolor="black", lw=1.0))
fig.text(fx(30), fy(677), "Diagramme des ensembles GEFS sur 384h pour Saint-Bonnet-le-Château",
         family=MONO, fontsize=8.3, fontweight="bold", va="center", ha="left")
fig.text(fx(30), fy(691), "Pression au niveau de la mer (hPa) , précipitations (mm)",
         family=MONO, fontsize=fs, va="center", ha="left")
fig.text(fx(450), fy(672), "Ensemble GEFS du 08/07/2024 - 12Z", family=MONO, fontsize=fs,
         va="center", ha="left")
fig.text(fx(450), fy(691), "Copyright 2024 Meteociel.fr", family=MONO, fontsize=8.3,
         fontweight="bold", va="center", ha="left")

fig.savefig("out.png", dpi=100, facecolor="white")
